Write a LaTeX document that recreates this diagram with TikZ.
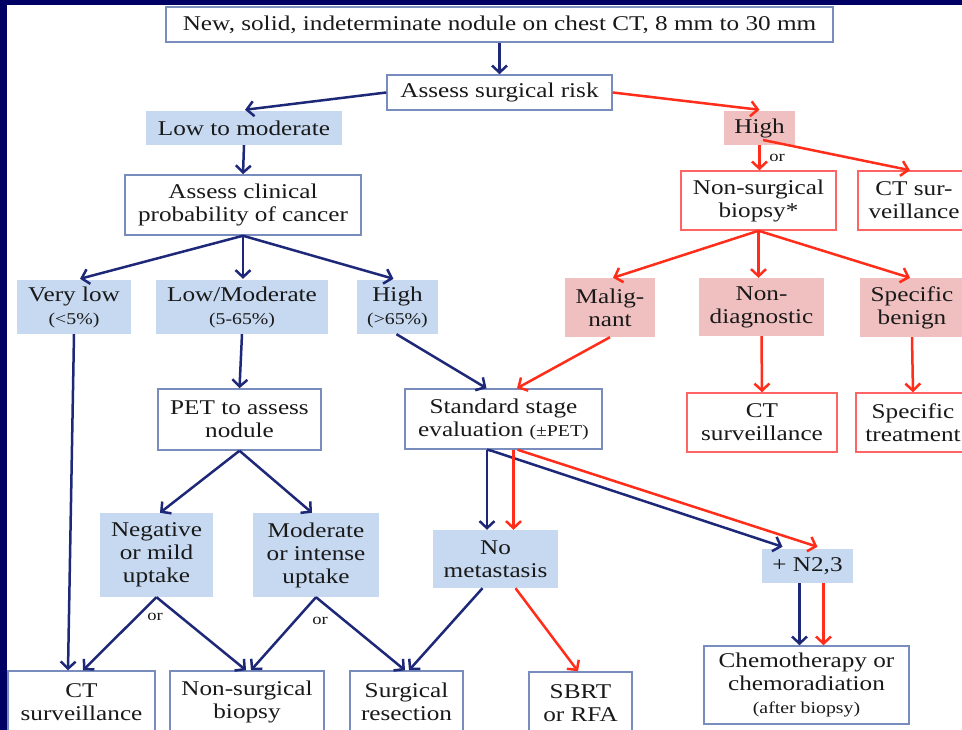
\documentclass[tikz,border=0pt]{standalone}
\usepackage{fontspec}
\setmainfont{Liberation Serif}[FakeStretch=1.2]
\usetikzlibrary{arrows.meta,calc}
\definecolor{navybg}{RGB}{0,0,100}
\definecolor{txt}{RGB}{25,25,25}
\definecolor{bborder}{RGB}{120,140,190}
\definecolor{rborder}{RGB}{255,100,100}
\definecolor{lblue}{RGB}{198,217,240}
\definecolor{pinkf}{RGB}{240,192,192}
\definecolor{arrblue}{RGB}{30,40,120}
\definecolor{arrred}{RGB}{255,45,25}
\newcommand{\smtxt}[1]{{\fontsize{16.5}{17}\selectfont #1}}
\begin{document}
\begin{tikzpicture}[x=1pt,y=-1pt,
  every node/.style={font=\fontsize{21}{23}\selectfont, text=txt, align=center, inner sep=0pt},
  wbox/.style={rectangle, draw=bborder, line width=1.5pt, fill=white},
  rbox/.style={rectangle, draw=rborder, line width=1.5pt, fill=white},
  bfill/.style={rectangle, fill=lblue},
  pfill/.style={rectangle, fill=pinkf},
  barrow/.style={draw=arrblue, line width=2.5pt, -{Straight Barb[length=7pt,width=15pt]}},
  rarrow/.style={draw=arrred, line width=2.5pt, -{Straight Barb[length=7pt,width=15pt]}},
  orlab/.style={font=\fontsize{15.5}{16}\selectfont}
]
\useasboundingbox (0,0) rectangle (962,730);
\fill[navybg] (0,0) rectangle (962,730);
\fill[white] (7,5) rectangle (962,730);
\clip (0,0) rectangle (962,730);

% nodes
\node[wbox, minimum width=667pt, minimum height=35pt] (top) at (499.5,24.5) {New, solid, indeterminate nodule on chest CT, 8 mm to 30 mm};
\node[wbox, minimum width=225pt, minimum height=35pt] (risk) at (499.5,92.5) {Assess surgical risk};
\node[bfill, minimum width=196pt, minimum height=34pt] (lowmod1) at (244,128) {Low to moderate};
\node[pfill, minimum width=71pt, minimum height=34pt] (high1) at (759.5,128) {High};
\node[wbox, minimum width=236pt, minimum height=60pt] (clin) at (243,205) {Assess clinical\\probability of cancer};
\node[rbox, minimum width=155pt, minimum height=59pt] (nsb1) at (758.5,200.5) {Non-surgical\\biopsy*};
\node[rbox, minimum width=112pt, minimum height=59pt] (ctsur1) at (914,200.5) {CT sur-\\veillance};

\node[bfill, minimum width=114pt, minimum height=54pt] (verylow) at (74,307) {Very low\\\smtxt{(<5\%)}};
\node[bfill, minimum width=172pt, minimum height=54pt] (lowmod2) at (242,307) {Low/Moderate\\\smtxt{(5-65\%)}};
\node[bfill, minimum width=81pt, minimum height=54pt] (high2) at (397.5,307) {High\\\smtxt{(>65\%)}};
\node[pfill, minimum width=90pt, minimum height=59pt] (malig) at (610,307.5) {Malig-\\nant};
\node[pfill, minimum width=125pt, minimum height=58pt] (nondiag) at (761.5,307) {Non-\\diagnostic};
\node[pfill, minimum width=104pt, minimum height=59pt] (specben) at (912,307.5) {Specific\\benign};

\node[wbox, minimum width=163pt, minimum height=61pt] (pet) at (239.5,419.5) {PET to assess\\nodule};
\node[wbox, minimum width=197pt, minimum height=60pt] (std) at (503.5,419) {Standard stage\\evaluation \smtxt{(±PET)}};
\node[rbox, minimum width=150pt, minimum height=59pt] (ctsur2) at (762,422.5) {CT\\surveillance};
\node[rbox, minimum width=114pt, minimum height=59pt] (spectr) at (913,422.5) {Specific\\treatment};

\node[bfill, minimum width=113pt, minimum height=84pt] (neg) at (156.5,555) {Negative\\or mild\\uptake};
\node[bfill, minimum width=126pt, minimum height=84pt] (modint) at (316,555) {Moderate\\or intense\\uptake};
\node[bfill, minimum width=125pt, minimum height=58pt] (nomet) at (495.5,559) {No\\metastasis};
\node[bfill, minimum width=91pt, minimum height=34pt] (n23) at (807.5,566) {+ N2,3};

\node[wbox, minimum width=147pt, minimum height=62pt] (ctsur3) at (81.5,702) {CT\\surveillance};
\node[wbox, minimum width=154pt, minimum height=62pt] (nsb3) at (247,702) {Non-surgical\\biopsy};
\node[wbox, minimum width=113pt, minimum height=62pt] (surg) at (406.5,702) {Surgical\\resection};
\node[wbox, minimum width=103pt, minimum height=62pt] (sbrt) at (580.5,703) {SBRT\\or RFA};
\node[wbox, minimum width=205pt, minimum height=78pt] (chemo) at (806.5,685) {Chemotherapy or\\chemoradiation\\\smtxt{(after biopsy)}};

% or labels
\node[orlab] (or1) at (777,158) {or};
\node[orlab] (or2) at (155,617) {or};
\node[orlab] (or3) at (320,621) {or};

% arrows
\draw[barrow] (top.south) -- (risk.north);
\draw[barrow] (risk.west) -- ($(lowmod1.north)+(1,-1)$);
\draw[rarrow] (risk.east) -- ($(high1.north)+(0,-1)$);
\draw[barrow] (lowmod1.south) -- (clin.north);
\draw[rarrow] (high1.south) -- (high1.south |- nsb1.north);
\draw[rarrow] ($(high1.center)+(3.5,12)$) -- ($(ctsur1.north)+(-4,0)$);

\draw[barrow] (clin.south) -- ($(verylow.north)+(6,-1)$);
\draw[barrow] (clin.south) -- ($(lowmod2.north)+(1,-1)$);
\draw[barrow] (clin.south) -- ($(high2.north)+(-4,-1)$);

\draw[rarrow] (nsb1.south) -- ($(malig.north)+(3,0)$);
\draw[rarrow] (nsb1.south) -- (nsb1.south |- nondiag.north);
\draw[rarrow] (nsb1.south) -- ($(specben.north)+(-2,0)$);

\draw[barrow] (verylow.south) -- ($(ctsur3.north)+(-13.5,0)$);
\draw[barrow] (lowmod2.south) -- (pet.north);
\draw[barrow] ($(high2.south)+(-1,0)$) -- ($(std.north)+(-17,0)$);
\draw[rarrow] (malig.south) -- ($(std.north)+(13.5,0)$);
\draw[rarrow] (nondiag.south) -- (ctsur2.north);
\draw[rarrow] (specben.south) -- (spectr.north);

\draw[barrow] (pet.south) -- ($(neg.north)+(3.5,0)$);
\draw[barrow] (pet.south) -- ($(modint.north)+(-4,0)$);

\draw[barrow] ($(std.south)+(-16.5,0)$) -- ($(nomet.north)+(-8.5,0)$);
\draw[barrow] ($(std.south)+(-16.5,0)$) -- ($(std.south)+(-12,1)$) -- ($(n23.north)+(-25,-2)$);
\draw[rarrow] ($(std.south)+(10,0)$) -- ($(nomet.north)+(18,0)$);
\draw[rarrow] ($(std.south)+(14,0)$) -- ($(n23.north)+(10,-2)$);

\draw[barrow] (neg.south) -- ($(ctsur3.north)+(1.5,0)$);
\draw[barrow] (neg.south) -- ($(nsb3.north)+(-1,0)$);
\draw[barrow] (modint.south) -- ($(nsb3.north)+(4,0)$);
\draw[barrow] (modint.south) -- ($(surg.north)+(-1.5,0)$);
\draw[barrow] ($(nomet.south)+(-13,0)$) -- ($(surg.north)+(2.5,0)$);
\draw[rarrow] ($(nomet.south)+(20,0)$) -- ($(sbrt.north)+(-2.5,0)$);

\draw[barrow] ($(n23.south)+(-8,0)$) -- ($(chemo.north)+(-7,0)$);
\draw[rarrow] ($(n23.south)+(16,0)$) -- ($(chemo.north)+(17,0)$);
\end{tikzpicture}
\end{document}
